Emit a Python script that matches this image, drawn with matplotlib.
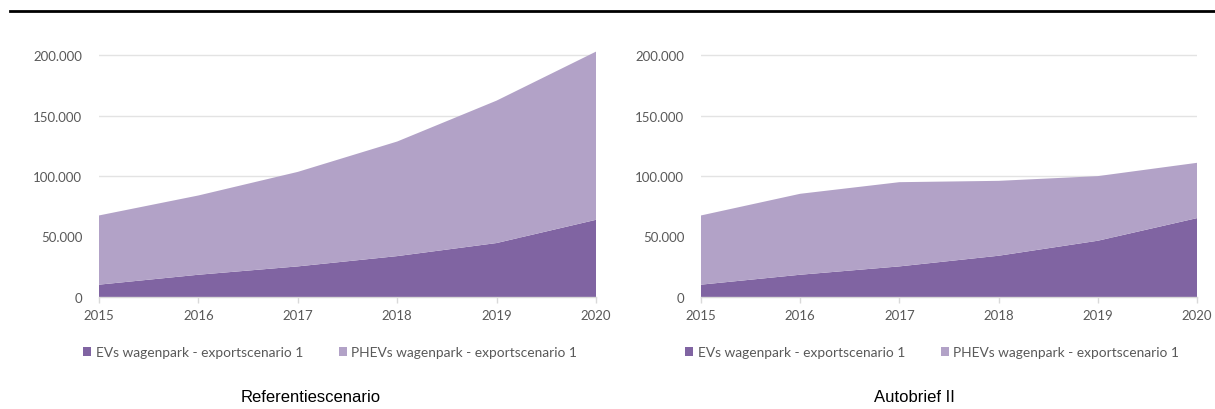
import matplotlib
matplotlib.use("Agg")
import matplotlib.pyplot as plt
from matplotlib.patches import Patch
from matplotlib.ticker import FuncFormatter
from matplotlib.lines import Line2D

years = [2015, 2016, 2017, 2018, 2019, 2020]
ev_ref = [10200, 18400, 25300, 33800, 44600, 63800]
phev_ref = [57200, 65500, 78100, 94700, 117700, 139000]
ev_auto = [10200, 18400, 25300, 34100, 46500, 65200]
phev_auto = [57200, 66900, 69600, 61900, 53400, 45700]
series_labels = ["EVs wagenpark - exportscenario 1", "PHEVs wagenpark - exportscenario 1"]
titles = ["Referentiescenario", "Autobrief II"]
yticks = [0, 50000, 100000, 150000, 200000]

C_EV = "#8064A2"
C_PHEV = "#B2A2C7"
GRAY = "#595959"

plt.rcParams['font.family'] = ['Lato', 'DejaVu Sans']

fig = plt.figure(figsize=(12.15, 4.10), dpi=100)
W, H = 1215, 410

def fmt(v, pos):
    return f"{int(v):,}".replace(",", ".")

panels = [
    (99, 596, ev_ref, phev_ref, titles[0], 311, 330),
    (701, 1197, ev_auto, phev_auto, titles[1], 914, 932),
]
y0_px, y200_px = 298, 56
ymax = 206000
top_px = y0_px - (y0_px - y200_px) * ymax / 200000

for (x0, x1, ev, phev, title, tx, lx) in panels:
    ax = fig.add_axes([x0 / W, (H - y0_px) / H, (x1 - x0) / W, (y0_px - top_px) / H])
    ax.stackplot(years, ev, phev, colors=[C_EV, C_PHEV], linewidth=0)
    ax.set_xlim(years[0], years[-1])
    ax.set_ylim(0, ymax)
    ax.set_yticks(yticks)
    ax.yaxis.set_major_formatter(FuncFormatter(fmt))
    ax.set_xticks(years)
    ax.grid(axis='y', color='#E3E3E3', linewidth=1)
    ax.set_axisbelow(True)
    for s in ['top', 'right', 'left']:
        ax.spines[s].set_visible(False)
    ax.spines['bottom'].set_color('#D9D9D9')
    ax.spines['bottom'].set_linewidth(1)
    ax.spines['bottom'].set_zorder(5)
    ax.tick_params(axis='y', length=0, pad=12, labelsize=9.5, labelcolor=GRAY)
    ax.tick_params(axis='x', length=4, color='#D9D9D9', width=1, pad=5,
                   labelsize=9.5, labelcolor=GRAY)
    handles = [Patch(facecolor=C_EV, edgecolor='none'),
               Patch(facecolor=C_PHEV, edgecolor='none')]
    fig.legend(handles, series_labels, loc='center', ncol=2,
               bbox_to_anchor=(lx / W, 1 - 353 / H), frameon=False,
               fontsize=9.9, labelcolor=GRAY, handlelength=0.6, handleheight=0.6,
               handletextpad=0.3, columnspacing=2.6, borderpad=0)
    fig.text(tx / W, 1 - 398 / H, title, ha='center', va='center',
             fontsize=12, family=['Liberation Sans', 'DejaVu Sans'], color='black')

fig.add_artist(Line2D([10 / W, 1214 / W], [1 - 12 / H, 1 - 12 / H],
                      transform=fig.transFigure, color='black', linewidth=2))

fig.savefig("out.png", dpi=100)
